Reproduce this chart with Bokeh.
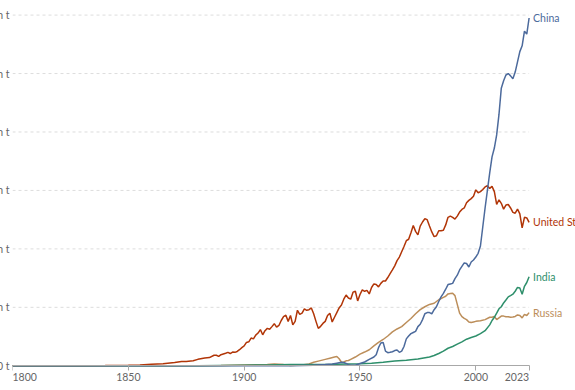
from bokeh.plotting import figure
from bokeh.models import Range1d, FixedTicker, Label
from bokeh.embed import file_html
from bokeh.resources import INLINE

# ---------------- data (billion tonnes CO2 per year) ----------------
us_years = [1800, 1810, 1820, 1830, 1840, 1850, 1855, 1860, 1865, 1870, 1873, 1875, 1878, 1880,
            1883, 1885, 1887, 1888, 1889, 1890, 1892, 1893, 1894, 1895, 1896, 1897, 1898, 1899,
            1900, 1901, 1902, 1903, 1904, 1905, 1906, 1907, 1908, 1909, 1910, 1911, 1912, 1913,
            1914, 1915, 1916, 1917, 1918, 1919, 1920, 1921, 1922, 1923, 1924, 1925, 1926, 1927,
            1928, 1929, 1930, 1931, 1932, 1933, 1934, 1935, 1936, 1937, 1938, 1939, 1940, 1941,
            1942, 1943, 1944, 1945, 1946, 1947, 1948, 1949, 1950, 1951, 1952, 1953, 1954, 1955,
            1956, 1957, 1958, 1959, 1960, 1961, 1962, 1963, 1964, 1965, 1966, 1967, 1968, 1969,
            1970, 1971, 1972, 1973, 1974, 1975, 1976, 1977, 1978, 1979, 1980, 1981, 1982, 1983,
            1984, 1985, 1986, 1987, 1988, 1989, 1990, 1991, 1992, 1993, 1994, 1995, 1996, 1997,
            1998, 1999, 2000, 2001, 2002, 2003, 2004, 2005, 2006, 2007, 2008, 2009, 2010, 2011,
            2012, 2013, 2014, 2015, 2016, 2017, 2018, 2019, 2020, 2021, 2022, 2023]
us_values = [0.0003, 0.0006, 0.0012, 0.003, 0.007, 0.02, 0.03, 0.05, 0.07, 0.11, 0.15, 0.15, 0.17, 0.22,
             0.27, 0.28, 0.36, 0.36, 0.32, 0.38, 0.43, 0.46, 0.42, 0.47, 0.46, 0.49, 0.55, 0.62,
             0.68, 0.80, 0.82, 0.95, 0.92, 1.05, 1.12, 1.24, 1.06, 1.20, 1.28, 1.25, 1.34, 1.44,
             1.32, 1.38, 1.55, 1.68, 1.73, 1.52, 1.72, 1.40, 1.52, 1.90, 1.76, 1.80, 1.95, 1.90,
             1.92, 1.98, 1.78, 1.52, 1.28, 1.35, 1.45, 1.52, 1.72, 1.80, 1.50, 1.66, 1.82, 1.98,
             2.08, 2.28, 2.42, 2.32, 2.28, 2.52, 2.55, 2.22, 2.44, 2.60, 2.55, 2.58, 2.46, 2.68,
             2.80, 2.78, 2.70, 2.82, 2.90, 2.90, 3.02, 3.15, 3.28, 3.42, 3.60, 3.72, 3.90, 4.08,
             4.28, 4.33, 4.55, 4.80, 4.60, 4.48, 4.78, 4.92, 5.03, 5.00, 4.78, 4.58, 4.42, 4.45,
             4.62, 4.62, 4.64, 4.82, 5.08, 5.12, 5.08, 5.02, 5.12, 5.26, 5.35, 5.40, 5.58, 5.66,
             5.72, 5.80, 6.02, 5.92, 5.96, 6.03, 6.12, 6.16, 6.07, 6.14, 5.96, 5.52, 5.68, 5.56,
             5.36, 5.50, 5.52, 5.40, 5.25, 5.22, 5.36, 5.20, 4.72, 5.08, 5.06, 4.91]

china_years = [1800, 1900, 1910, 1920, 1930, 1935, 1938, 1940, 1942, 1943, 1944, 1945, 1946, 1948,
               1950, 1952, 1954, 1956, 1957, 1958, 1959, 1960, 1961, 1962, 1963, 1964, 1965, 1966,
               1967, 1968, 1969, 1970, 1971, 1972, 1973, 1974, 1975, 1976, 1977, 1978, 1979, 1980,
               1981, 1982, 1983, 1984, 1985, 1986, 1987, 1988, 1989, 1990, 1991, 1992, 1993, 1994,
               1995, 1996, 1997, 1998, 1999, 2000, 2001, 2002, 2003, 2004, 2005, 2006, 2007, 2008,
               2009, 2010, 2011, 2012, 2013, 2014, 2015, 2016, 2017, 2018, 2019, 2020, 2021, 2022,
               2023]
china_values = [0.0, 0.0, 0.003, 0.005, 0.02, 0.04, 0.06, 0.09, 0.12, 0.11, 0.08, 0.04, 0.02, 0.02,
                0.08, 0.13, 0.22, 0.30, 0.38, 0.62, 0.78, 0.80, 0.50, 0.45, 0.46, 0.48, 0.52, 0.54,
                0.46, 0.50, 0.66, 0.92, 1.02, 1.10, 1.14, 1.18, 1.34, 1.42, 1.58, 1.78, 1.82, 1.82,
                1.78, 1.92, 2.02, 2.20, 2.36, 2.48, 2.62, 2.78, 2.80, 2.82, 2.98, 3.10, 3.28, 3.40,
                3.52, 3.50, 3.38, 3.55, 3.62, 3.72, 3.85, 4.10, 4.75, 5.40, 6.00, 6.60, 7.15, 7.45,
                7.90, 8.60, 9.50, 9.75, 9.95, 10.00, 9.92, 9.82, 10.05, 10.40, 10.75, 10.95, 11.45,
                11.35, 11.90]

india_years = [1800, 1850, 1880, 1900, 1910, 1920, 1930, 1940, 1945, 1950, 1955, 1960, 1965, 1970,
               1975, 1980, 1982, 1984, 1986, 1988, 1990, 1992, 1994, 1996, 1998, 2000, 2002, 2004,
               2006, 2007, 2008, 2009, 2010, 2011, 2012, 2013, 2014, 2015, 2016, 2017, 2018, 2019,
               2020, 2021, 2022, 2023]
india_values = [0.0, 0.0005, 0.005, 0.02, 0.03, 0.04, 0.04, 0.05, 0.06, 0.07, 0.09, 0.12, 0.16, 0.19,
                0.23, 0.30, 0.35, 0.42, 0.50, 0.60, 0.66, 0.74, 0.82, 0.91, 0.97, 1.02, 1.10, 1.20,
                1.40, 1.55, 1.66, 1.80, 1.95, 2.02, 2.15, 2.25, 2.36, 2.40, 2.45, 2.55, 2.68, 2.66,
                2.45, 2.72, 2.85, 3.05]

russia_years = [1800, 1850, 1870, 1890, 1900, 1910, 1913, 1917, 1920, 1925, 1928, 1930, 1932, 1935,
                1937, 1939, 1940, 1941, 1942, 1943, 1944, 1945, 1946, 1948, 1950, 1952, 1954, 1956,
                1958, 1960, 1962, 1964, 1966, 1968, 1970, 1972, 1974, 1976, 1978, 1980, 1982, 1984,
                1986, 1987, 1988, 1989, 1990, 1991, 1992, 1993, 1994, 1995, 1996, 1997, 1998, 1999,
                2000, 2002, 2004, 2006, 2007, 2008, 2009, 2010, 2011, 2012, 2013, 2014, 2015, 2016,
                2017, 2018, 2019, 2020, 2021, 2022, 2023]
russia_values = [0.0, 0.001, 0.003, 0.01, 0.03, 0.04, 0.06, 0.04, 0.01, 0.03, 0.06, 0.12, 0.16, 0.22,
                 0.26, 0.30, 0.32, 0.24, 0.12, 0.13, 0.17, 0.18, 0.22, 0.30, 0.40, 0.47, 0.55, 0.68,
                 0.80, 0.90, 1.02, 1.16, 1.26, 1.34, 1.48, 1.62, 1.78, 1.92, 2.02, 2.10, 2.14, 2.26,
                 2.34, 2.38, 2.46, 2.47, 2.48, 2.40, 2.10, 1.80, 1.68, 1.62, 1.58, 1.50, 1.48, 1.50,
                 1.52, 1.54, 1.58, 1.66, 1.66, 1.69, 1.58, 1.64, 1.70, 1.70, 1.68, 1.68, 1.66, 1.67,
                 1.69, 1.74, 1.72, 1.64, 1.76, 1.72, 1.82]

series = [
    ("United States", us_years, us_values, "#B13507"),
    ("Russia", russia_years, russia_values, "#BC8E5A"),
    ("India", india_years, india_values, "#2E8F6B"),
    ("China", china_years, china_values, "#4C6A9C"),
]

y_ticks = [0, 2, 4, 6, 8, 10, 12]
y_tick_labels = ["0 t", "2 billion t", "4 billion t", "6 billion t", "8 billion t",
                 "10 billion t", "12 billion t"]
x_ticks = [1800, 1850, 1900, 1950, 2000, 2023]
x_tick_labels = ["1800", "1850", "1900", "1950", "2000", "2023"]

FONT = "Lato"
GRAY = "#666666"
FS = "10.5px"

x_first, x_last = x_ticks[0], x_ticks[-1]

# frame: x from 1800 (page x 12) to the right window edge; room below 0 for the axis labels
p = figure(frame_width=563, frame_height=382,
           x_range=Range1d(x_first, 2043.03), y_range=Range1d(-0.914, 12.157),
           output_backend="svg", toolbar_location=None,
           min_border_left=80, min_border_right=0, min_border_top=10, min_border_bottom=0)
p.styles = {"margin-left": "-68px", "margin-bottom": "-120px"}
p.outline_line_color = None
p.background_fill_color = "white"
p.border_fill_color = "white"

# y axis (labels only)
p.yaxis.ticker = FixedTicker(ticks=y_ticks)
p.yaxis.major_label_overrides = {t: l for t, l in zip(y_ticks, y_tick_labels)}
p.yaxis.axis_line_color = None
p.yaxis.major_tick_line_color = None
p.yaxis.major_tick_out = 0
p.yaxis.major_tick_in = 0
p.yaxis.minor_tick_line_color = None
p.yaxis.minor_tick_out = 0
p.yaxis.major_label_standoff = 3
p.yaxis.major_label_text_font = FONT
p.yaxis.major_label_text_font_size = FS
p.yaxis.major_label_text_color = GRAY

# dashed horizontal grid lines spanning 1800..2023
p.xgrid.visible = False
p.ygrid.visible = False
grid_vals = y_ticks[1:]
p.segment(x0=[x_first] * len(grid_vals), x1=[x_last] * len(grid_vals), y0=grid_vals, y1=grid_vals,
          line_color="#dddddd", line_width=1, line_dash="3 3")

# x axis pinned at y=0, drawn only over 1800..2023
p.xaxis.fixed_location = 0
p.xaxis.bounds = (x_first, x_last)
p.xaxis.ticker = FixedTicker(ticks=x_ticks)
overrides = {t: l for t, l in zip(x_ticks, x_tick_labels)}
overrides[x_first] = ""
overrides[x_last] = ""
p.xaxis.major_label_overrides = overrides
p.xaxis.axis_line_color = "#a8a8a8"
p.xaxis.major_tick_line_color = "#a8a8a8"
p.xaxis.major_tick_out = 5
p.xaxis.major_tick_in = 0
p.xaxis.minor_tick_line_color = None
p.xaxis.major_label_standoff = 2
p.xaxis.major_label_text_font = FONT
p.xaxis.major_label_text_font_size = FS
p.xaxis.major_label_text_color = GRAY

# first / last x labels aligned to their tick like the original
p.add_layout(Label(x=x_first, y=0, y_offset=-7, text=x_tick_labels[0], text_align="left",
                   text_baseline="top", text_font=FONT, text_font_size=FS, text_color=GRAY))
p.add_layout(Label(x=x_last, y=0, y_offset=-7, text=x_tick_labels[-1], text_align="right",
                   text_baseline="top", text_font=FONT, text_font_size=FS, text_color=GRAY))

for name, xs, ys, color in series:
    p.line(xs, ys, line_color=color, line_width=1.5)

for name, xs, ys, color in series:
    p.add_layout(Label(x=xs[-1], y=ys[-1], x_offset=4, text=name, text_align="left",
                       text_baseline="middle", text_font=FONT, text_font_size=FS,
                       text_color=color))

open("out.html", "w").write(file_html(p, INLINE))
